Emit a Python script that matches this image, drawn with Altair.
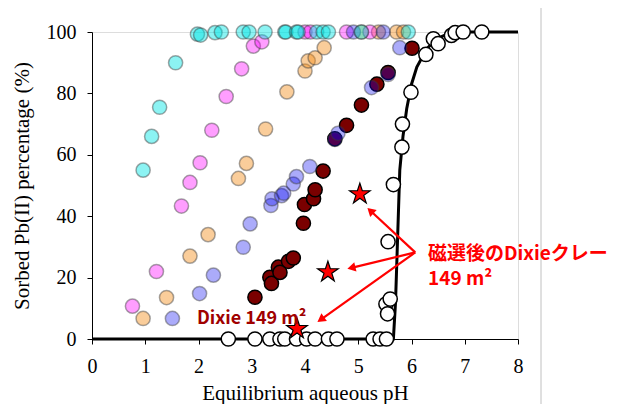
import math
import altair as alt
import pandas as pd

# ---------------- data ----------------
cyan_x = [0.96, 1.12, 1.27, 1.57, 1.98, 2.04, 2.31, 2.43, 2.84, 2.95, 3.25, 3.62, 3.64, 3.84, 3.87, 4.22, 4.34, 4.44, 5.06, 5.94]
cyan_y = [55, 66, 75.5, 90, 99.3, 99, 99.8, 100, 100, 100, 100, 100, 100, 100, 100, 100, 100, 100, 100, 100]

magenta_x = [0.76, 1.21, 1.68, 1.84, 2.03, 2.25, 2.52, 2.81, 3.03, 3.19, 4.00, 4.10, 4.78, 5.22]
magenta_y = [10.7, 22, 43.3, 51, 57.4, 68, 79, 88, 95.4, 96.8, 100, 100, 100, 100]

orange_x = [0.96, 1.40, 1.84, 2.18, 2.75, 2.90, 3.26, 3.66, 4.00, 4.06, 4.19, 4.36, 5.06, 5.38, 5.72, 5.85]
orange_y = [6.7, 13.5, 27, 34, 52.3, 57.2, 68.4, 80.5, 87.3, 90.6, 91.6, 94.9, 100, 100, 100, 100]

blue_x = [1.51, 2.02, 2.28, 2.84, 2.97, 3.36, 3.38, 3.56, 3.60, 3.78, 3.84, 4.09, 4.56, 4.62, 4.91, 5.25, 5.47, 5.56, 5.78]
blue_y = [6.7, 14.8, 20.8, 29.9, 37.5, 43.5, 45.7, 46.7, 47.5, 50.5, 52.9, 56.2, 65, 67, 100, 81.9, 100, 86.2, 94.9]

dixie_x = [3.06, 3.34, 3.37, 3.50, 3.53, 3.69, 3.78, 3.97, 3.99, 4.16, 4.19, 4.34, 4.56, 4.78, 5.06, 5.35, 5.56, 6.01]
dixie_y = [13.6, 20.1, 18.1, 23.4, 21.7, 25.3, 26.4, 37.7, 43.8, 45.7, 48.6, 54.7, 65.2, 69.6, 76.2, 83, 86.8, 94.7]

white_x = [2.56, 3.06, 3.34, 3.53, 3.62, 3.84, 4.03, 4.19, 4.44, 4.60, 5.28, 5.41, 5.53,
           5.52, 5.55, 5.60, 5.56, 5.66, 5.82, 5.83, 5.99, 6.27, 6.41, 6.50, 6.75, 6.82, 6.97, 7.32]
white_y = [0, 0, 0, 0, 0, 0, 0, 0, 0, 0, 0, 0, 0,
           11.4, 8.2, 13, 31.7, 50.3, 62.5, 70, 80.4, 92.7, 97.8, 96.2, 98.9, 99.8, 100, 100]

fit_x = [0, 5.66, 5.70, 5.73, 5.78, 5.84, 5.91, 6.0, 6.1, 6.29, 6.47, 6.66, 7.0, 8.0]
fit_y = [0, 0, 12, 28, 55, 66, 75, 83, 88.6, 94.6, 97.8, 99.2, 100, 100]

star_x = [5.03, 4.43, 3.85]
star_y = [47.2, 21.8, 3.3]

arrow_origin = (6.07, 28.2)
arrow_tip_x = [5.16, 4.78, 4.22]
arrow_tip_y = [42.9, 22.8, 5.4]

x_ticks = [0, 1, 2, 3, 4, 5, 6, 7, 8]
y_ticks = [0, 20, 40, 60, 80, 100]

label_jp_1 = "磁選後のDixieクレー"
label_jp_2 = "149 m²"
label_dixie = "Dixie 149 m²"

# ---------------- layout ----------------
W, H = 426, 307
PX_X = W / 8.0
PX_Y = H / 100.0

xs = alt.Scale(domain=[0, 8], nice=False, zero=False)
ys = alt.Scale(domain=[0, 100], nice=False, zero=False)

serif = "Liberation Serif"
xaxis = alt.Axis(values=x_ticks, title="Equilibrium aqueous pH", grid=False,
                 labelFont=serif, labelFontSize=20, labelColor="black", labelPadding=12,
                 titleFont=serif, titleFontSize=21, titleFontWeight="normal", titleColor="black",
                 titlePadding=6, domainColor="black", tickColor="black", tickSize=5,
                 labelFlush=False)
yaxis = alt.Axis(values=y_ticks, title="Sorbed Pb(II) percentage (%)", grid=False,
                 labelFont=serif, labelFontSize=20, labelColor="black", labelPadding=11,
                 titleFont=serif, titleFontSize=21, titleFontWeight="normal", titleColor="black",
                 titlePadding=14, domainColor="black", tickColor="black", tickSize=5,
                 labelFlush=False)


def X(f="x"):
    return alt.X(f, type="quantitative", scale=xs, axis=xaxis)


def Y(f="y"):
    return alt.Y(f, type="quantitative", scale=ys, axis=yaxis)


def df(xv, yv):
    return pd.DataFrame({"x": xv, "y": yv})


def pts(xv, yv, fill, op):
    return alt.Chart(df(xv, yv)).mark_point(
        shape="circle", filled=True, size=200, fill=fill, fillOpacity=op,
        stroke="#3a3a3a", strokeOpacity=0.45, strokeWidth=1.5
    ).encode(x=X(), y=Y())


dixie = alt.Chart(df(dixie_x, dixie_y)).mark_point(
    shape="circle", filled=True, size=200, fill="#7a0000", fillOpacity=1,
    stroke="black", strokeWidth=1.5, strokeOpacity=1
).encode(x=X(), y=Y())

orange = pts(orange_x, orange_y, "#f59020", 0.45)
magenta = pts(magenta_x, magenta_y, "#ff00ff", 0.38)
blue = pts(blue_x, blue_y, "#0000f0", 0.33)
cyan = pts(cyan_x, cyan_y, "#00e5e5", 0.45)

fit = alt.Chart(df(fit_x, fit_y)).mark_line(color="black", strokeWidth=3).encode(
    x=X(), y=Y())

white = alt.Chart(df(white_x, white_y)).mark_point(
    shape="circle", filled=True, size=200, fill="white", fillOpacity=1,
    stroke="black", strokeWidth=1.5, strokeOpacity=1
).encode(x=X(), y=Y())

STAR = ("M0,-1L0.225,-0.309L0.951,-0.309L0.363,0.118L0.588,0.809L0,0.382"
        "L-0.588,0.809L-0.363,0.118L-0.951,-0.309L-0.225,-0.309Z")
stars = alt.Chart(df(star_x, star_y)).mark_point(
    shape=STAR, filled=True, size=470, fill="#ff0000", fillOpacity=1,
    stroke="black", strokeWidth=1.2, strokeOpacity=1
).encode(x=X(), y=Y())

# arrows
rows = []
ox, oy = arrow_origin
for tx, ty in zip(arrow_tip_x, arrow_tip_y):
    dx = (tx - ox) * PX_X
    dy = -(ty - oy) * PX_Y
    L = math.hypot(dx, dy)
    ux, uy = dx / L, dy / L
    back = 5.0
    hx = tx - ux * back / PX_X
    hy = ty + uy * back / PX_Y
    ang = math.degrees(math.atan2(dx, -dy)) % 360
    rows.append({"x": ox, "y": oy, "x2": hx, "y2": hy, "ang": ang})
adf = pd.DataFrame(rows)

arrow_lines = alt.Chart(adf).mark_rule(color="#ff0000", strokeWidth=2.2).encode(
    x=X("x"), y=Y("y"), x2="x2", y2="y2")
arrow_heads = alt.Chart(adf).mark_point(
    shape="triangle-up", filled=True, size=90, fill="#ff0000", fillOpacity=1, strokeWidth=0
).encode(x=X("x2"), y=Y("y2"), angle=alt.Angle("ang:Q", scale=None))

jp = "Noto Sans CJK JP"
txt_df = pd.DataFrame({
    "x": [6.31, 6.31, 1.97],
    "y": [25.7, 17.7, 5.0],
    "t": [label_jp_1, label_jp_2, label_dixie],
    "c": ["#ff0000", "#ff0000", "#a00000"],
    "s": [19, 19, 18],
})
texts = alt.Chart(txt_df).mark_text(
    align="left", baseline="alphabetic", font=jp, fontWeight="bold"
).encode(x=X(), y=Y(), text="t:N", color=alt.Color("c:N", scale=None),
         size=alt.Size("s:Q", scale=None))

frame = alt.Chart(pd.DataFrame({"k": [0]})).mark_rule(color="#c0c0c0", strokeWidth=1).encode(
    x=alt.value(449), y=alt.value(-24), y2=alt.value(372))

chart = alt.layer(
    frame, dixie, orange, magenta, blue, cyan, fit, white, arrow_lines, arrow_heads, stars, texts
).properties(
    width=W, height=H,
    padding={"left": 84, "top": 24, "right": 94, "bottom": 65},
    autosize=alt.AutoSizeParams(type="none"),
).configure_view(stroke=None).configure(background="white")

chart.save("out.html", embed_options={"renderer": "svg", "actions": False})
